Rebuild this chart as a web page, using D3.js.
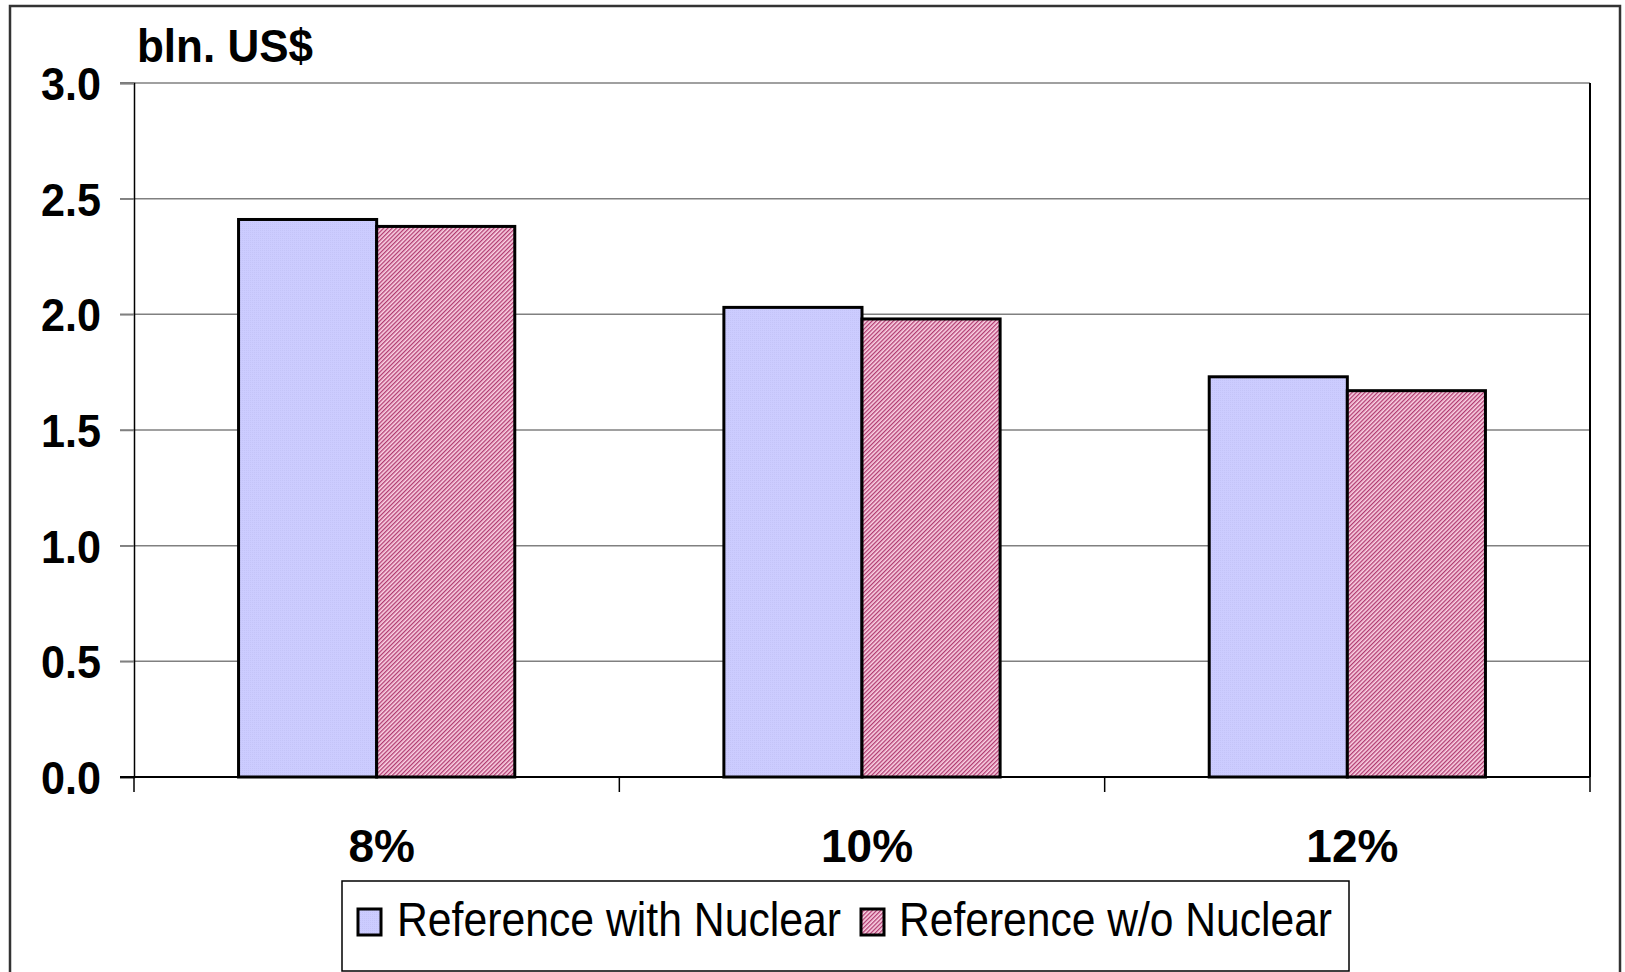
<!DOCTYPE html>
<html>
<head>
<meta charset="utf-8">
<script src="https://cdn.jsdelivr.net/npm/d3@7"></script>
<style>
  html, body { margin: 0; padding: 0; background: #fff; }
  svg { display: block; }
  text { font-family: "Liberation Sans", Arial, sans-serif; }
</style>
</head>
<body>
<svg id="chart" width="1625" height="972"></svg>
<script>
// ---- data ----
const categories = ["8%", "10%", "12%"];
const seriesNames = ["Reference with Nuclear", "Reference w/o Nuclear"];
const withNuclear = [2.41, 2.03, 1.73];
const withoutNuclear = [2.38, 1.98, 1.67];
const yTicks = [0, 0.5, 1.0, 1.5, 2.0, 2.5, 3.0];
const unitLabel = "bln. US$";

const svg = d3.select("#chart");

// patterns
const defs = svg.append("defs");
const pBlue = defs.append("pattern").attr("id", "pBlue").attr("patternUnits", "userSpaceOnUse")
  .attr("width", 2).attr("height", 2);
pBlue.append("rect").attr("width", 2).attr("height", 2).attr("fill", "#ccccff");
pBlue.append("rect").attr("width", 1).attr("height", 1).attr("fill", "#c4c4f8");
const pPink = defs.append("pattern").attr("id", "pPink").attr("patternUnits", "userSpaceOnUse")
  .attr("width", 3).attr("height", 3).attr("patternTransform", "rotate(-45)");
pPink.append("rect").attr("width", 3).attr("height", 3).attr("fill", "#fbd3e4");
pPink.append("rect").attr("width", 3).attr("height", 1.3).attr("fill", "#b03a70");

// outer border
svg.append("rect").attr("x", 10).attr("y", 6).attr("width", 1610).attr("height", 980)
  .attr("fill", "none").attr("stroke", "#333").attr("stroke-width", 2.5);

const plot = { left: 134, right: 1590, top: 83, bottom: 777 };

const x0 = d3.scaleBand().domain(categories).range([plot.left, plot.right]).padding(0);
const x1 = d3.scaleBand().domain(seriesNames).range([0, x0.bandwidth()]).paddingInner(0).paddingOuter(0.757);
const y = d3.scaleLinear().domain([0, 3]).range([plot.bottom, plot.top]);

// gridlines
svg.append("g").selectAll("line").data(yTicks.filter(d => d > 0)).join("line")
  .attr("x1", 120).attr("x2", plot.right)
  .attr("y1", d => y(d)).attr("y2", d => y(d))
  .attr("stroke", "#808080").attr("stroke-width", 1.5);

// right border of plot
svg.append("line").attr("x1", plot.right).attr("x2", plot.right)
  .attr("y1", plot.top).attr("y2", plot.bottom)
  .attr("stroke", "#000").attr("stroke-width", 2);

// bars
const series = [withNuclear, withoutNuclear];
const fills = ["url(#pBlue)", "url(#pPink)"];
const barData = [];
categories.forEach((c, i) => {
  seriesNames.forEach((s, j) => barData.push({ c, s, v: series[j][i], j }));
});
svg.append("g").selectAll("rect").data(barData).join("rect")
  .attr("x", d => x0(d.c) + x1(d.s))
  .attr("width", x1.bandwidth())
  .attr("y", d => y(d.v))
  .attr("height", d => y(0) - y(d.v))
  .attr("fill", d => fills[d.j])
  .attr("stroke", "#000").attr("stroke-width", 3);

// y axis
const yAxis = d3.axisLeft(y).tickValues(yTicks).tickFormat(d3.format(".1f")).tickSize(14).tickPadding(19);
const gy = svg.append("g").attr("transform", `translate(${plot.left},0)`).call(yAxis);
gy.select(".domain").attr("stroke", "#000").attr("stroke-width", 1.5);
gy.selectAll(".tick line").attr("stroke", d => d === 0 ? "#000" : "#808080").attr("stroke-width", 1.5);
gy.selectAll(".tick text").attr("font-size", 46).attr("font-weight", "bold").attr("fill", "#000")
  .attr("font-family", "'Liberation Sans', Arial, sans-serif").attr("dy", "0.36em")
  .attr("textLength", 60).attr("lengthAdjust", "spacingAndGlyphs");

// x axis
const xAxis = d3.axisBottom(x0).tickSize(0).tickPadding(0);
const gx = svg.append("g").attr("transform", `translate(0,${plot.bottom})`).call(xAxis);
gx.select(".domain").remove();
gx.append("line").attr("x1", plot.left - 14).attr("x2", plot.right).attr("y1", 0).attr("y2", 0)
  .attr("stroke", "#000").attr("stroke-width", 2);
const bounds = [...categories.map(c => x0(c)), x0(categories[categories.length - 1]) + x0.bandwidth()];
gx.selectAll(".sep").data(bounds).join("line").attr("class", "sep")
  .attr("x1", d => d).attr("x2", d => d).attr("y1", 0).attr("y2", 15)
  .attr("stroke", "#000").attr("stroke-width", 1.5);
gx.selectAll(".tick text").attr("font-size", 46).attr("font-weight", "bold").attr("fill", "#000")
  .attr("font-family", "'Liberation Sans', Arial, sans-serif")
  .attr("dy", null).attr("y", 85).attr("dx", 5);

// unit label
svg.append("text").attr("x", 137).attr("y", 62).attr("font-size", 46).attr("font-weight", "bold")
  .attr("textLength", 176).attr("lengthAdjust", "spacingAndGlyphs")
  .text(unitLabel);

// legend
const lg = svg.append("g");
lg.append("rect").attr("x", 342).attr("y", 881).attr("width", 1007).attr("height", 90)
  .attr("fill", "#fff").attr("stroke", "#000").attr("stroke-width", 1.5);
const legendItems = [
  { name: seriesNames[0], fill: fills[0], sx: 358, tx: 397, tl: 444 },
  { name: seriesNames[1], fill: fills[1], sx: 861, tx: 899, tl: 433 }
];
legendItems.forEach(it => {
  lg.append("rect").attr("x", it.sx).attr("y", 909).attr("width", 23).attr("height", 26)
    .attr("fill", it.fill).attr("stroke", "#000").attr("stroke-width", 3);
  lg.append("text").attr("x", it.tx).attr("y", 936).attr("font-size", 49)
    .attr("textLength", it.tl).attr("lengthAdjust", "spacingAndGlyphs")
    .text(it.name);
});
</script>
</body>
</html>
